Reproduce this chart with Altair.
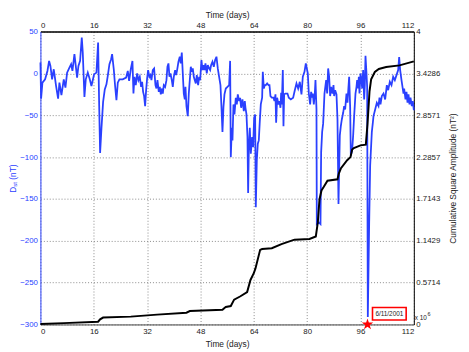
import altair as alt
import pandas as pd

# ---------------- data ----------------
dst_days = [0, 0.2, 0.6, 1.4, 2.1, 2.6, 3.0, 3.5, 4.0, 4.7, 5.3, 5.7, 6.3, 7.0, 7.5, 8.0, 8.7, 9.2, 9.6,
            10.2, 10.6, 11.0, 11.4, 11.9, 12.4, 12.7, 13.2, 13.6, 14.2, 14.8, 15.3, 16.1, 16.8, 17.3, 17.6,
            17.9, 18.3, 18.8, 19.3, 19.8, 20.2, 20.7, 21.2, 21.5, 22.0, 22.4, 22.8, 23.2, 23.7, 24.7, 25.7,
            26.2, 26.6, 27.1, 27.6, 27.9, 28.2, 28.6, 29.0, 29.4, 29.8, 30.2, 30.5, 30.8, 31.1, 31.4, 31.7,
            32.0, 32.3, 32.7, 33.0, 33.3, 33.7, 34.1, 34.5, 34.8, 35.1, 35.5, 35.8, 36.1, 36.5, 36.7, 37.0,
            37.4, 37.8, 38.1, 38.4, 38.7, 39.0, 39.4, 39.7, 40.0, 40.4, 40.7, 41.0, 41.4, 41.8, 42.1, 42.4,
            42.7, 43.0, 43.3, 43.5, 43.8, 44.2, 44.5, 44.8, 45.1, 45.4, 45.7, 46.0, 46.3, 46.6, 46.9, 47.3,
            47.6, 47.9, 48.3, 48.6, 48.9, 49.2, 49.5, 49.9, 50.2, 50.6, 50.9, 51.2, 51.6, 52.0, 52.4, 52.8,
            53.2, 53.6, 54.0, 54.3, 54.6, 54.9, 55.2, 55.6, 56.1, 56.6, 56.9, 57.1, 57.4, 57.6, 57.9, 58.2,
            58.6, 58.9, 59.2, 59.6, 59.9, 60.2, 60.6, 61.0, 61.3, 61.5, 61.8, 62.1, 62.3, 62.5, 62.8, 63.1,
            63.5, 63.8, 64.1, 64.4, 64.6, 64.9, 65.2, 65.5, 65.8, 66.1, 66.5, 66.7, 67.0, 67.3, 67.6, 68.0,
            68.4, 68.7, 69.0, 69.4, 69.9, 70.2, 70.5, 70.7, 71.0, 71.4, 71.7, 72.0, 72.2, 72.4, 72.7, 72.9,
            73.1, 73.5, 74.1, 74.5, 75.1, 75.8, 76.3, 76.8, 77.3, 77.8, 78.3, 78.7, 79.2, 79.6, 79.9, 80.2,
            80.5, 80.9, 81.2, 81.5, 81.7, 82.0, 82.3, 82.5, 82.8, 82.9, 83.5, 84.0, 84.2, 84.5, 84.8, 85.2,
            85.7, 86.0, 86.3, 86.6, 86.9, 87.2, 87.6, 87.9, 88.1, 88.4, 88.8, 89.1, 89.4, 89.8, 90.1, 90.4,
            90.8, 91.1, 91.4, 91.8, 92.1, 92.4, 92.6, 92.9, 93.1, 93.5, 93.8, 94.1, 94.5, 94.8, 95.0, 95.3,
            95.5, 95.7, 96.0, 96.3, 96.5, 96.8, 97.1, 97.3, 97.5, 97.8, 98.0, 98.2, 98.6, 98.9, 99.4, 99.7,
            99.9, 100.4, 100.9, 101.4, 101.7, 102.0, 102.4, 102.9, 103.4, 103.9, 104.3, 104.8, 105.3, 105.8,
            106.3, 106.8, 107.3, 107.6, 107.9, 108.3, 108.6, 108.9, 109.1, 109.5, 109.8, 110.1, 110.4, 110.7,
            111.0, 111.4, 111.7, 112.0]
dst_values = [13, -30, -11, -7, 3, 15, 9, -7, 5, -15, -30, -11, -26, -7, -17, 1, 7, 11, 3,
              23, 9, -5, 9, 15, 43, 25, -28, -7, 1, -7, -15, -1, 1, 37, -34,
              -95, -66, -34, -19, -13, -3, 11, 17, 23, 5, -15, -32, -11, -7, -7, -5,
              3, -9, 5, 15, -24, -4, -14, 0, -8, -4, -16, -10, -22, -27, -39, -20,
              -6, 4, -4, -2, -8, 4, 6, -14, -18, -8, -22, -16, -25, -18, -24, -14,
              -16, -8, 8, 12, -4, 0, -8, -16, -4, 4, -2, 4, 14, 20, 12, 25,
              0, -24, -31, -16, -39, -51, -24, -8, 8, 2, 6, -4, -8, -12, -2, -14,
              -4, -8, 16, 4, 10, 4, 12, 0, 10, 6, 4, 10, 14, 8, 16, 20,
              6, -4, -14, -40, -70, -40, -25, -18, -16, -14, 15, -100, -65, -80, -37, -49,
              -29, -37, -25, -33, -29, -41, -31, -45, -33, -41, -49, -76, -143, -92, -65, -96,
              -76, -88, -53, -49, -160, -104, -84, -80, -57, -37, -29, 2, -18, -14, -14, -12,
              -14, -14, -27, -29, -29, -33, -25, -59, -29, -37, -33, -41, -23, -37, 4, -63,
              -25, -24, -24, -29, -31, -29, -20, -12, -18, -10, -25, -4, 2, 12, 6, 0,
              -24, -37, -22, -29, -24, -37, -24, -8, -43, -180, -178, -180, -94, -70, -60, -24,
              -8, -24, 6, -4, -27, -16, -24, -14, -27, -20, -25, -55, -156, -74, -63, -55,
              -47, -39, -43, -24, -35, -16, -4, -40, -98, -92, -74, -51, -24, -16, -8, -18,
              -4, -24, 0, -8, -18, 4, -31, -14, 21, 0, -16, -291, -180, -110, -70, -59,
              -51, -43, -35, -39, -29, -37, -27, -24, -31, -14, -20, -10, -14, -4,
              -8, -2, 4, 19.5, 4, -8, -16, -24, -18, -31, -22, -35, -25, -37,
              -29, -39, -33, -44]

cum_days = [0, 7.0, 17.3, 17.9, 18.8, 27.1, 35.0, 43.8, 44.8, 54.6, 55.2, 55.6, 57.1, 58.1, 60.0, 62.0,
            63.0, 64.0, 64.5, 65.9, 66.5, 69.4, 72.3, 76.2, 80.7, 82.6, 83.2, 83.7, 84.3, 85.0, 86.1, 89.1,
            89.5, 90.1, 92.0, 93.0, 93.5, 94.0, 96.0, 97.6, 98.1, 98.7, 99.2, 100.3, 101.5, 103.7, 107.7, 112]
cum_values = [0.005, 0.018, 0.037, 0.07, 0.094, 0.107, 0.134, 0.161, 0.183, 0.200, 0.225, 0.238, 0.251,
              0.339, 0.385, 0.442, 0.608, 0.70, 0.766, 1.019, 1.03, 1.041, 1.098, 1.158, 1.167, 1.202,
              1.394, 1.707, 1.83, 1.88, 1.964, 1.983, 2.06, 2.13, 2.244, 2.286, 2.39, 2.41, 2.446, 2.456,
              2.735, 3.18, 3.35, 3.449, 3.49, 3.517, 3.539, 3.593]

x_ticks = [0, 16, 32, 48, 64, 80, 96, 112]
dst_ticks = [-300, -250, -200, -150, -100, -50, 0, 50]
cum_ticks = [i * 4 / 7 for i in range(8)]

event_day = [98.1]
event_dst = [-300]
event_label = ["6/11/2001"]
box_day = [99.6]
box_day2 = [109.7]
box_dst = [-279.7]
box_dst2 = [-294.7]

FONT = "Liberation Sans"
BLUE = "#2a40ff"
GRID = "#8a8a8a"

dst_df = pd.DataFrame({"day": dst_days, "dst": dst_values})
cum_df = pd.DataFrame({"day": cum_days, "cum": cum_values})
ev_df = pd.DataFrame({"day": event_day, "dst": event_dst})
box_df = pd.DataFrame({"d1": box_day, "d2": box_day2, "y1": box_dst, "y2": box_dst2,
                       "dm": [(a + b) / 2 for a, b in zip(box_day, box_day2)],
                       "ym": [(a + b) / 2 for a, b in zip(box_dst, box_dst2)],
                       "label": event_label})
one = pd.DataFrame({"a": [0]})

xs = alt.Scale(domain=[0, 112], nice=False, zero=False)
ys_dst = alt.Scale(domain=[-300, 50], nice=False, zero=False)
ys_cum = alt.Scale(domain=[0, 4], nice=False, zero=False)

blue = alt.Chart(dst_df).mark_line(color=BLUE, strokeWidth=1.8).encode(
    x=alt.X("day:Q", scale=xs, axis=alt.Axis(
        orient="bottom", values=x_ticks, grid=True, gridDash=[1, 2], gridColor=GRID,
        ticks=False, domainColor="#444", domainWidth=1, labelPadding=3, labelColor="#222",
        title="Time (days)", titleY=15, titleColor="#222")),
    y=alt.Y("dst:Q", scale=ys_dst, axis=alt.Axis(
        orient="left", values=dst_ticks, grid=True, gridDash=[1, 2], gridColor=GRID,
        ticks=False, domainColor=BLUE, domainWidth=1, labelColor=BLUE, labelPadding=3,
        title=None)),
)

black = alt.Chart(cum_df).mark_line(color="black", strokeWidth=2).encode(
    x=alt.X("day:Q", scale=xs, axis=alt.Axis(
        orient="top", values=x_ticks, grid=False, ticks=False, domainColor="black",
        domainWidth=1.5, labelPadding=2, labelColor="#222",
        title="Time (days)", titleY=-14, titleBaseline="alphabetic", titleColor="#222")),
    y=alt.Y("cum:Q", scale=ys_cum, axis=alt.Axis(
        orient="right", values=cum_ticks, labelExpr="format(datum.value, '.4~f')",
        grid=False, ticks=False, domainColor="black", domainWidth=1, labelPadding=2,
        labelColor="#222", title="Cumulative Square Amplitude (nT\u00b2)", titleAngle=270,
        titleX=39, titleY=149, titleAlign="center", titleBaseline="middle", titleColor="#222")),
)

box = alt.Chart(box_df).mark_rect(fill="white", stroke="#ff0000", strokeWidth=1.6).encode(
    x=alt.X("d1:Q", scale=xs, axis=None), x2="d2:Q",
    y=alt.Y("y1:Q", scale=ys_dst, axis=None), y2="y2:Q",
)
box_text = alt.Chart(box_df).mark_text(font=FONT, fontSize=6.5, color="#222",
                                       baseline="middle", align="center").encode(
    x=alt.X("dm:Q", scale=xs, axis=None),
    y=alt.Y("ym:Q", scale=ys_dst, axis=None),
    text="label:N",
)

STAR = ("M0,-1L0.225,-0.309L0.951,-0.309L0.363,0.118L0.588,0.809L0,0.382"
        "L-0.588,0.809L-0.363,0.118L-0.951,-0.309L-0.225,-0.309Z")
star = alt.Chart(ev_df).mark_point(shape=STAR, filled=True, color="#ff0000", opacity=1,
                                   size=150, clip=False).encode(
    x=alt.X("day:Q", scale=xs, axis=None),
    y=alt.Y("dst:Q", scale=ys_dst, axis=None),
)

def label(txt, x, y, size, color, angle=0, align="center"):
    return alt.Chart(one).mark_text(text=txt, font=FONT, fontSize=size, color=color,
                                    angle=angle, align=align, baseline="middle").encode(
        x=alt.value(x), y=alt.value(y))

left_title = [
    label("D", -28, 161, 8.5, BLUE, 270),
    label("st", -26, 155.5, 6, BLUE, 270),
    label("(nT)", -28, 143, 8.5, BLUE, 270),
]
exp_label = [
    label("x 10", 381, 291, 6.5, "#222", 0, "left"),
    label("6", 394, 287, 5.5, "#222", 0, "left"),
]

chart = alt.layer(blue, black, box, box_text, star, *left_title, *exp_label).resolve_scale(
    y="independent").resolve_axis(x="independent", y="independent").properties(
    width=380, height=298,
    autosize=alt.AutoSizeParams(type="none"),
    padding={"left": 33, "top": 21, "right": 48, "bottom": 25},
).configure_view(stroke=None).configure_axis(
    labelFont=FONT, labelFontSize=8, titleFont=FONT, titleFontSize=8.5, titleFontWeight="normal",
)

chart.save("out.html", embed_options={"renderer": "svg", "actions": False})
